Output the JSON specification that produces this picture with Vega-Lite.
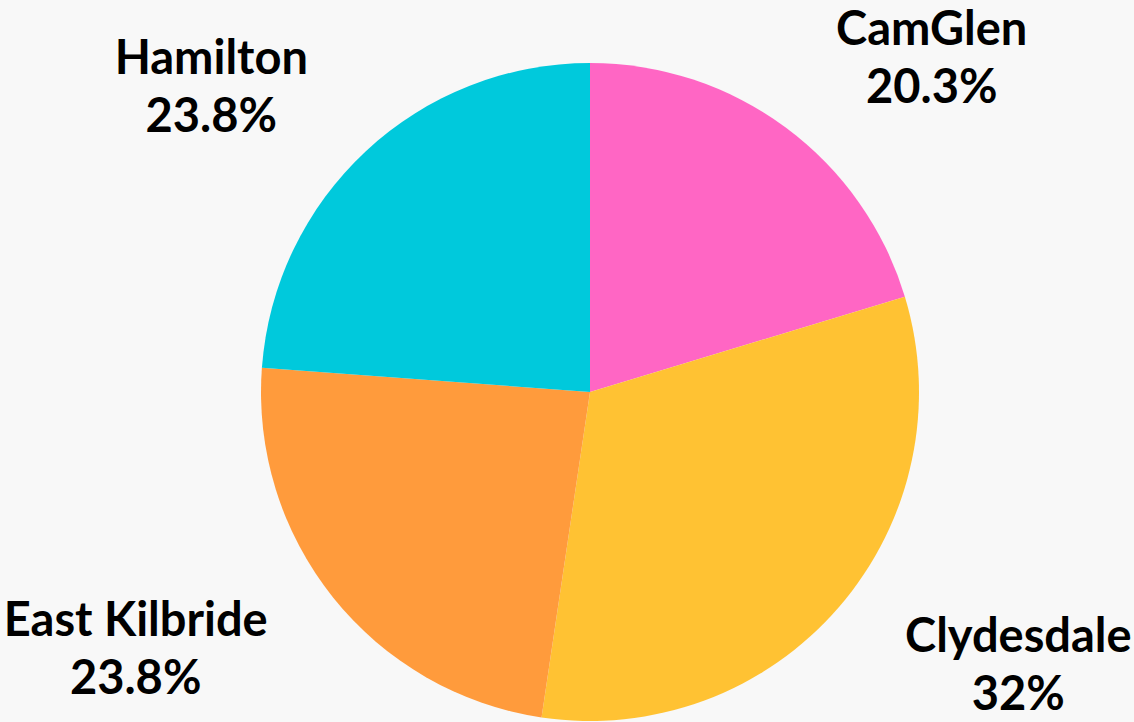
{
  "$schema": "https://vega.github.io/schema/vega-lite/v6.json",
  "width": 1088,
  "height": 660,
  "autosize": {"type": "none"},
  "padding": {"left": 46, "top": 62, "right": 0, "bottom": 0},
  "background": "#f8f8f8",
  "config": {"view": {"stroke": null}},
  "data": {
    "values": [
      {"region": "CamGlen", "share": 20.3},
      {"region": "Clydesdale", "share": 32},
      {"region": "East Kilbride", "share": 23.8},
      {"region": "Hamilton", "share": 23.8}
    ]
  },
  "transform": [
    {"calculate": "datum.region + '\\n' + datum.share + '%'", "as": "label"}
  ],
  "encoding": {
    "theta": {"field": "share", "type": "quantitative", "stack": true},
    "order": {"field": "region", "sort": "ascending"}
  },
  "layer": [
    {
      "mark": {"type": "arc", "outerRadius": 329},
      "encoding": {
        "color": {
          "field": "region",
          "type": "nominal",
          "legend": null,
          "scale": {
            "domain": ["CamGlen", "Clydesdale", "East Kilbride", "Hamilton"],
            "range": ["#ff66c4", "#ffc233", "#ff9b3c", "#00c9dc"]
          }
        }
      }
    },
    {
      "mark": {
        "type": "text",
        "radius": 414,
        "align": "center",
        "baseline": "middle",
        "font": "Lato",
        "fontWeight": "bold",
        "fontSize": 47,
        "lineHeight": 58,
        "lineBreak": "\n",
        "color": "#000000",
        "dx": {"expr": "datum.region == 'CamGlen' ? 95 : datum.region == 'Clydesdale' ? 115 : datum.region == 'East Kilbride' ? -131 : -97"},
        "dy": {"expr": "datum.region == 'Clydesdale' ? -25 : -29"}
      },
      "encoding": {
        "text": {"field": "label"}
      }
    }
  ]
}
